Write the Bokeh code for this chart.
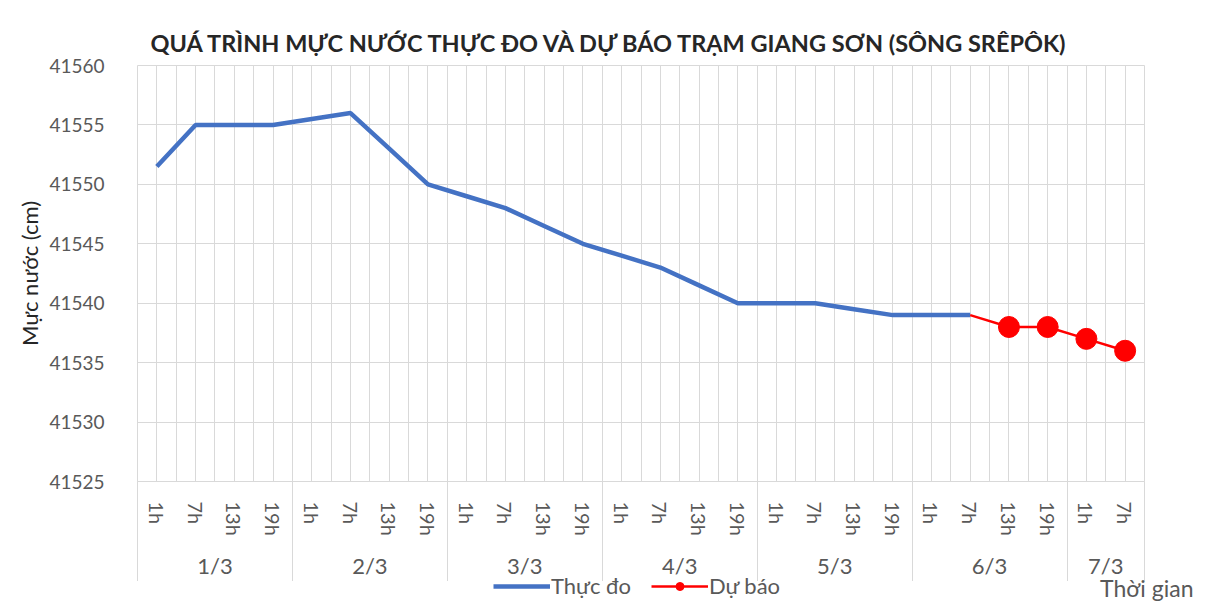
from bokeh.plotting import figure
from bokeh.models import (FactorRange, Range1d, FixedTicker, Legend, LegendItem, Label,
                          LinearAxis, Grid)
from bokeh.layouts import column
from bokeh.embed import file_html
from bokeh.resources import INLINE

# ---- data ----
days = ["1/3", "2/3", "3/3", "4/3", "5/3", "6/3", "7/3"]
hours = ["1h", "7h", "13h", "19h"]
factors = [(d, h) for d in days for h in hours][:26]

observed_x = factors[:22]
observed_values = [41551.5, 41555, 41555, 41555,
                   41555.5, 41556, 41553, 41550,
                   41549, 41548, 41546.5, 41545,
                   41544, 41543, 41541.5, 41540,
                   41540, 41540, 41539.5, 41539,
                   41539, 41539]
forecast_x = factors[21:]
forecast_values = [41539, 41538, 41538, 41537, 41536]

y_ticks = [41525, 41530, 41535, 41540, 41545, 41550, 41555, 41560]

title_text = "QUÁ TRÌNH MỰC NƯỚC THỰC ĐO VÀ DỰ BÁO TRẠM GIANG SƠN (SÔNG SRÊPÔK)"
y_label = "Mực nước (cm)"
x_label = "Thời gian"
legend_labels = ["Thực đo", "Dự báo"]

FONT = "Lato"
GRID = "#d9d9d9"
TXT = "#595959"
BLUE = "#4472C4"
RED = "#FF0000"
W = 1212
LEFT, FW = 137, 1007
RIGHT = W - LEFT - FW

# positions of category centres / day groups on the factor range (derived from the factors)
n = len(factors)
hour_ticks = [i + 0.5 for i in range(n)]
hour_labels = {t: f[1] for t, f in zip(hour_ticks, factors)}
day_idx = {d: [i for i, f in enumerate(factors) if f[0] == d] for d in days}
day_ticks = [(min(ix) + max(ix) + 1) / 2 for ix in day_idx.values()]
day_labels = {t: d for t, d in zip(day_ticks, days)}
day_bounds = [min(ix) for ix in day_idx.values()] + [n]

p = figure(x_range=FactorRange(*factors, factor_padding=0, group_padding=0, subgroup_padding=0),
           y_range=Range1d(41525, 41560),
           frame_width=FW, frame_height=416,
           min_border_left=LEFT, min_border_top=65, min_border_right=RIGHT,
           min_border_bottom=60,
           x_axis_type=None,
           output_backend="svg", toolbar_location=None,
           title=title_text)

p.title.text_font = FONT
p.title.text_font_size = "23.5px"
p.title.text_font_style = "bold"
p.title.text_color = "#262626"
p.title.align = "left"
p.title.offset = 13
p.title.standoff = 17

p.outline_line_color = GRID
p.background_fill_color = "white"
p.border_fill_color = "white"

# y axis
p.yaxis.ticker = FixedTicker(ticks=y_ticks)
p.yaxis.axis_line_color = None
p.yaxis.major_tick_line_color = None
p.yaxis.minor_tick_line_color = None
p.yaxis.major_label_text_font = FONT
p.yaxis.major_label_text_font_size = "19px"
p.yaxis.major_label_text_color = TXT
p.yaxis.major_label_standoff = 27
p.yaxis.axis_label = y_label
p.yaxis.axis_label_text_font = FONT
p.yaxis.axis_label_text_font_size = "22px"
p.yaxis.axis_label_text_font_style = "normal"
p.yaxis.axis_label_text_color = "#262626"
p.yaxis.axis_label_standoff = 3
p.ygrid.grid_line_color = GRID

# vertical grid at category centres and boundaries
p.add_layout(Grid(dimension=0, ticker=FixedTicker(ticks=[i * 0.5 for i in range(2 * n + 1)]),
                  grid_line_color=GRID))

# x axis: hour labels
ax_hours = LinearAxis(ticker=FixedTicker(ticks=hour_ticks),
                      major_label_overrides=hour_labels,
                      major_label_orientation="vertical",
                      major_label_text_font=FONT, major_label_text_font_size="20px",
                      major_label_text_color=TXT, major_label_standoff=14,
                      axis_line_color=GRID, major_tick_line_color=None,
                      minor_tick_line_color=None)
p.add_layout(ax_hours, "below")

# x axis: day labels
ax_days = LinearAxis(ticker=FixedTicker(ticks=day_ticks),
                     major_label_overrides=day_labels,
                     major_label_text_font=FONT, major_label_text_font_size="22px",
                     major_label_text_color=TXT, major_label_standoff=7,
                     axis_line_color=None, major_tick_line_color=None,
                     minor_tick_line_color=None)
p.add_layout(ax_days, "below")

# day separators: minor ticks of an outer, label-less axis reaching up to the frame
ax_sep = LinearAxis(ticker=FixedTicker(ticks=[], minor_ticks=day_bounds),
                    major_label_standoff=0, major_label_text_font_size="0px",
                    axis_line_color=None, major_tick_line_color=None,
                    minor_tick_line_color=GRID, minor_tick_in=100, minor_tick_out=0)
p.add_layout(ax_sep, "below")

# series
obs = p.line(observed_x, observed_values, line_color=BLUE, line_width=4.5)
fc_line = p.line(forecast_x, forecast_values, line_color=RED, line_width=2.5)
fc_pts = p.scatter(forecast_x[1:], forecast_values[1:], marker="circle", size=21,
                   fill_color=RED, line_color=RED)

# bottom strip: legend + x title (frame starts at the main plot's frame, reaches the right edge)
nan = float("nan")
p2 = figure(frame_width=W - LEFT, frame_height=30, x_range=Range1d(0, 1), y_range=Range1d(0, 1),
            x_axis_type=None, y_axis_type=None,
            min_border_left=LEFT, min_border_right=0, min_border_top=0, min_border_bottom=0,
            output_backend="svg", toolbar_location=None,
            styles={"margin-top": "-10px"})
p2.outline_line_color = None
p2.border_fill_alpha = 0
p2.background_fill_alpha = 0
p2.grid.visible = False
lg_obs = p2.line(x=[nan], y=[nan], line_color=BLUE, line_width=4.5)
lg_fc = p2.line(x=[nan], y=[nan], line_color=RED, line_width=2.5)
lg_fc_pts = p2.scatter(x=[nan], y=[nan], marker="circle", size=12, fill_color=RED, line_color=RED)

legend = Legend(items=[LegendItem(label=legend_labels[0], renderers=[lg_obs]),
                       LegendItem(label=legend_labels[1], renderers=[lg_fc, lg_fc_pts])],
                orientation="horizontal", location=(493 - LEFT, 2),
                label_text_font=FONT, label_text_font_size="22px", label_text_color=TXT,
                border_line_color=None, background_fill_alpha=0,
                glyph_width=57, glyph_height=20, spacing=20, padding=0, margin=0,
                label_standoff=1)
p2.add_layout(legend, "center")

p2.add_layout(Label(x=1193 - LEFT, y=14, x_units="screen", y_units="screen", text=x_label,
                    text_align="right", text_baseline="middle",
                    text_font=FONT, text_font_size="23px", text_color=TXT))

layout = column(p, p2, spacing=0)
open("out.html", "w").write(file_html(layout, INLINE))
